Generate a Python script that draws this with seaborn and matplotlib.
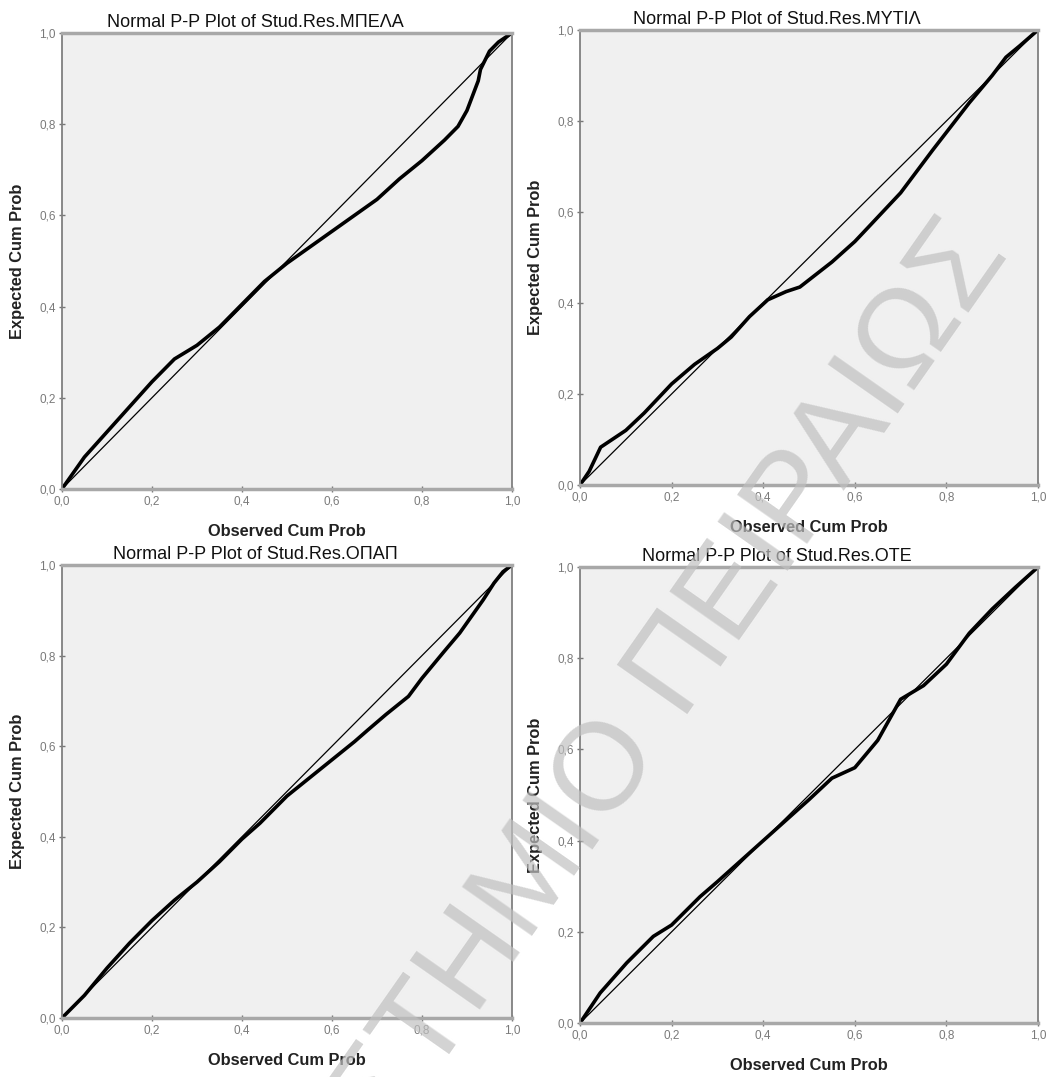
import numpy as np
import pandas as pd
import matplotlib
matplotlib.use('Agg')
import matplotlib.pyplot as plt
from matplotlib.ticker import FuncFormatter
import seaborn as sns

# P-P plot readings: observed cumulative prob vs expected cumulative prob
titles = ['Normal P-P Plot of Stud.Res.ΜΠΕΛΑ', 'Normal P-P Plot of Stud.Res.ΜΥΤΙΛ',
          'Normal P-P Plot of Stud.Res.ΟΠΑΠ', 'Normal P-P Plot of Stud.Res.ΟΤΕ']

obs_mpela = [0, 0.025, 0.05, 0.1, 0.15, 0.2, 0.25, 0.3, 0.35, 0.4, 0.45, 0.5, 0.55, 0.6,
             0.65, 0.7, 0.75, 0.8, 0.85, 0.88, 0.9, 0.925, 0.93, 0.95, 0.97, 1.0]
exp_mpela = [0, 0.035, 0.07, 0.125, 0.18, 0.235, 0.285, 0.315, 0.355, 0.405, 0.455, 0.495, 0.53, 0.565,
             0.6, 0.635, 0.68, 0.72, 0.765, 0.795, 0.83, 0.895, 0.92, 0.96, 0.98, 1.0]

obs_mytil = [0, 0.02, 0.045, 0.1, 0.14, 0.2, 0.25, 0.3, 0.33, 0.37, 0.41, 0.45, 0.48, 0.55,
             0.6, 0.63, 0.7, 0.77, 0.8, 0.85, 0.9, 0.93, 0.96, 1.0]
exp_mytil = [0, 0.03, 0.083, 0.12, 0.158, 0.222, 0.265, 0.30, 0.325, 0.37, 0.407, 0.425, 0.435, 0.49,
             0.535, 0.567, 0.642, 0.736, 0.775, 0.84, 0.9, 0.94, 0.965, 1.0]

obs_opap = [0, 0.05, 0.1, 0.15, 0.2, 0.25, 0.3, 0.35, 0.4, 0.44, 0.5, 0.55, 0.6, 0.65,
            0.68, 0.72, 0.77, 0.8, 0.85, 0.884, 0.936, 0.96, 0.98, 1.0]
exp_opap = [0, 0.05, 0.11, 0.165, 0.215, 0.26, 0.30, 0.345, 0.395, 0.43, 0.49, 0.53, 0.57, 0.61,
            0.636, 0.67, 0.71, 0.75, 0.81, 0.85, 0.923, 0.96, 0.985, 1.0]

obs_ote = [0, 0.044, 0.102, 0.16, 0.2, 0.262, 0.3, 0.4, 0.5, 0.55, 0.6, 0.65, 0.7, 0.75,
           0.8, 0.85, 0.9, 0.95, 1.0]
exp_ote = [0, 0.066, 0.132, 0.19, 0.215, 0.277, 0.31, 0.40, 0.49, 0.537, 0.56, 0.62, 0.71, 0.74,
           0.787, 0.855, 0.908, 0.955, 1.0]

diag = [0.0, 1.0]
tick_vals = [0.0, 0.2, 0.4, 0.6, 0.8, 1.0]
watermark = 'ΠΑΝΕΠΙΣΤΗΜΙΟ ΠΕΙΡΑΙΩΣ'

series = [(obs_mpela, exp_mpela), (obs_mytil, exp_mytil), (obs_opap, exp_opap), (obs_ote, exp_ote)]

sns.set_theme(style='white')
plt.rcParams['font.family'] = ['Liberation Sans', 'DejaVu Sans']

fig = plt.figure(figsize=(10.5, 10.77), dpi=100)
positions = [[0.0590, 0.5460, 0.4286, 0.4234], [0.5524, 0.5497, 0.4362, 0.4225],
             [0.0590, 0.0548, 0.4286, 0.4206], [0.5524, 0.0501, 0.4362, 0.4234]]

fmt = FuncFormatter(lambda v, pos: f'{v:.1f}'.replace('.', ','))

for pos, title, (obs, exp) in zip(positions, titles, series):
    ax = fig.add_axes(pos)
    ax.set_facecolor('#f0f0f0')
    ref = pd.DataFrame({'x': diag, 'y': diag})
    sns.lineplot(data=ref, x='x', y='y', ax=ax, color='black', linewidth=0.9)
    df = pd.DataFrame({'obs': obs, 'exp': exp})
    sns.lineplot(data=df, x='obs', y='exp', ax=ax, color='black', linewidth=2.6,
                 sort=False, estimator=None)
    ax.set_xlim(0, 1)
    ax.set_ylim(0, 1)
    ax.set_xticks(tick_vals)
    ax.set_yticks(tick_vals)
    ax.xaxis.set_major_formatter(fmt)
    ax.yaxis.set_major_formatter(fmt)
    ax.tick_params(axis='both', which='both', direction='inout', length=5, width=1,
                   color='#777777', labelcolor='#7a7a7a', labelsize=8.5, pad=2,
                   bottom=True, left=True)
    for side in ['top', 'bottom']:
        ax.spines[side].set_color('#a8a8a8')
        ax.spines[side].set_linewidth(2.5)
    for side in ['left', 'right']:
        ax.spines[side].set_color('#808080')
        ax.spines[side].set_linewidth(1.3)
    # SPSS centres the title over the whole chart frame, so it sits a bit left
    ax.set_title(title, fontsize=13, pad=4, color='#111111', x=0.43)
    ax.set_xlabel('Observed Cum Prob', fontsize=11.8, fontweight='bold', color='#222222', labelpad=12)
    ax.set_ylabel('Expected Cum Prob', fontsize=11.8, fontweight='bold', color='#222222', labelpad=10)

fig.text(537 / 1050, 1 - 874 / 1077, watermark, rotation=55, ha='center', va='center',
         fontsize=90, color='#c0c0c0', alpha=0.7, zorder=10)

plt.savefig('out.png', dpi=100)
plt.close()
